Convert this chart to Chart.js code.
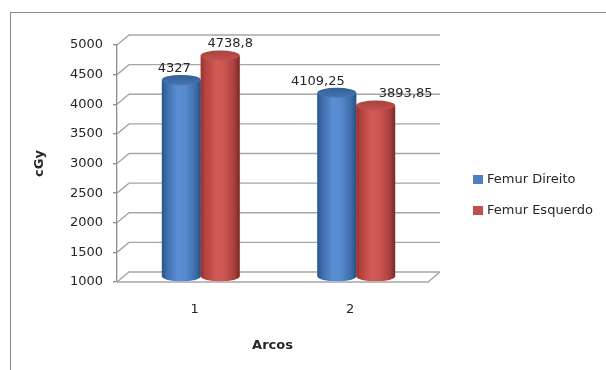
<!DOCTYPE html>
<html><head><meta charset="utf-8">
<script src="https://cdn.jsdelivr.net/npm/chart.js@4/dist/chart.umd.min.js"></script>
<style>
html,body{margin:0;padding:0;background:#fff;overflow:hidden;}
#frame{position:absolute;left:10px;top:12px;width:800px;height:600px;border:1px solid #8a8a8a;box-sizing:border-box;}
#c{position:absolute;left:0;top:0;}
</style></head><body>
<div id="frame"></div>
<canvas id="c" width="606" height="370"></canvas>
<script>
// ---- data ----
const categories = ['1', '2'];
const seriesNames = ['Femur Direito', 'Femur Esquerdo'];
const femurDireito = [4327, 4109.25];
const femurEsquerdo = [4738.8, 3893.85];
const yMin = 1000, yMax = 5000, yStep = 500;
const xTitle = 'Arcos';
const yTitle = 'cGy';

// ---- styling ----
const FONT = 'DejaVu Sans';
const TXT = '#262626';
const DX = 12, DY = 10;           // 3D depth offset
const baseColors = ['#4f81bd', '#c0504d'];
const bodyStops = [
  [[0,'#2c5487'],[0.12,'#3c6cab'],[0.4,'#5b8fd4'],[0.62,'#5588cc'],[0.86,'#3d6daa'],[1,'#2a4f7e']],
  [[0,'#953331'],[0.12,'#b5433f'],[0.4,'#d25a56'],[0.62,'#cc5551'],[0.86,'#a8403d'],[1,'#7a2927']]
];
const capColors = [['#335f96','#4675b2'], ['#a8413e','#c4524f']];
const labelShift = [[[-7,-11],[-19,-11]], [[10,-12],[30,-12]]];

const fmt = v => String(v).replace('.', ',');

const plugin3d = {
  id: 'plugin3d',
  beforeDatasetsDraw(chart) {
    const {ctx, chartArea: a} = chart;
    const ys = chart.scales.y;
    ctx.save();
    ctx.strokeStyle = '#a6a6a6';
    ctx.lineWidth = 1.4;
    ys.ticks.forEach(t => {
      const y = ys.getPixelForValue(t.value);
      ctx.beginPath();
      ctx.moveTo(a.left, y);
      ctx.lineTo(a.left + DX, y - DY);
      ctx.lineTo(a.right + DX, y - DY);
      ctx.stroke();
    });
    // floor front edge
    ctx.beginPath();
    ctx.moveTo(a.left, a.bottom);
    ctx.lineTo(a.right, a.bottom);
    ctx.lineTo(a.right + DX, a.bottom - DY);
    ctx.stroke();
    ctx.restore();
    ctx.save();
    ctx.translate(DX / 2, -DY / 2);
  },
  afterDatasetsDraw(chart) {
    const {ctx} = chart;
    ctx.restore();
    chart.data.datasets.forEach((ds, di) => {
      const meta = chart.getDatasetMeta(di);
      meta.data.forEach((el, i) => {
        const cx = el.x + DX / 2;
        const w = el.width;
        const top = el.y - DY / 2;
        const base = el.base - DY / 2;
        const l = cx - w / 2, r = cx + w / 2;
        const rx = w / 2, ry = 5;
        const g = ctx.createLinearGradient(l, 0, r, 0);
        bodyStops[di].forEach(s => g.addColorStop(s[0], s[1]));
        ctx.save();
        ctx.fillStyle = g;
        ctx.beginPath();
        ctx.moveTo(l, top);
        ctx.lineTo(l, base);
        ctx.ellipse(cx, base, rx, ry, 0, Math.PI, 0, true);
        ctx.lineTo(r, top);
        ctx.closePath();
        ctx.fill();
        const cg = ctx.createLinearGradient(0, top - ry, 0, top + ry);
        cg.addColorStop(0, capColors[di][0]);
        cg.addColorStop(1, capColors[di][1]);
        ctx.fillStyle = cg;
        ctx.beginPath();
        ctx.ellipse(cx, top, rx, ry, 0, 0, Math.PI * 2);
        ctx.fill();
        // data label
        const sh = labelShift[di][i];
        ctx.fillStyle = TXT;
        ctx.font = '13px "' + FONT + '"';
        ctx.textAlign = 'center';
        ctx.textBaseline = 'middle';
        ctx.fillText(fmt(ds.data[i]), cx + sh[0], top + sh[1]);
        ctx.restore();
      });
    });
  },
  afterDraw(chart) {
    const {ctx} = chart;
    ctx.save();
    ctx.font = '13px "' + FONT + '"';
    ctx.textBaseline = 'middle';
    ctx.textAlign = 'left';
    chart.data.datasets.forEach((ds, di) => {
      const yc = 179.5 + di * 31;
      ctx.fillStyle = baseColors[di];
      ctx.fillRect(473, yc - 4.5, 10, 9);
      ctx.fillStyle = TXT;
      ctx.fillText(ds.label, 487, yc);
    });
    ctx.restore();
  }
};

new Chart(document.getElementById('c'), {
  type: 'bar',
  data: {
    labels: categories,
    datasets: [
      {label: seriesNames[0], data: femurDireito, backgroundColor: baseColors[0], base: yMin, clip: false},
      {label: seriesNames[1], data: femurEsquerdo, backgroundColor: baseColors[1], base: yMin, clip: false}
    ]
  },
  options: {
    responsive: false,
    animation: false,
    events: [],
    categoryPercentage: 0.5,
    barPercentage: 1.0,
    layout: {padding: {left: 0, right: 178, top: 45, bottom: 0}},
    plugins: {legend: {display: false}, tooltip: {enabled: false}},
    scales: {
      x: {
        grid: {display: false, drawTicks: false},
        border: {display: false},
        ticks: {padding: 20, color: TXT, font: {family: FONT, size: 13}},
        title: {display: true, text: xTitle, color: TXT, font: {family: FONT, size: 13, weight: 'bold'}, padding: {top: 0, bottom: 17}},
        afterFit(s) { s.height = 88; s.paddingLeft = 0; s.paddingRight = 0; }
      },
      y: {
        min: yMin, max: yMax,
        grid: {display: true, drawOnChartArea: false, drawTicks: true, tickLength: 4, color: '#8c8c8c', lineWidth: 1.3},
        border: {display: true, color: '#8c8c8c', width: 1.3},
        ticks: {stepSize: yStep, padding: 10, color: TXT, font: {family: FONT, size: 13}, callback: v => String(v)},
        title: {display: true, text: yTitle, color: TXT, font: {family: FONT, size: 13, weight: 'bold'}, padding: {top: 32, bottom: 0}},
        afterFit(s) { s.width = 117; s.paddingTop = 0; s.paddingBottom = 0; }
      }
    }
  },
  plugins: [plugin3d]
});
</script>
</body></html>
